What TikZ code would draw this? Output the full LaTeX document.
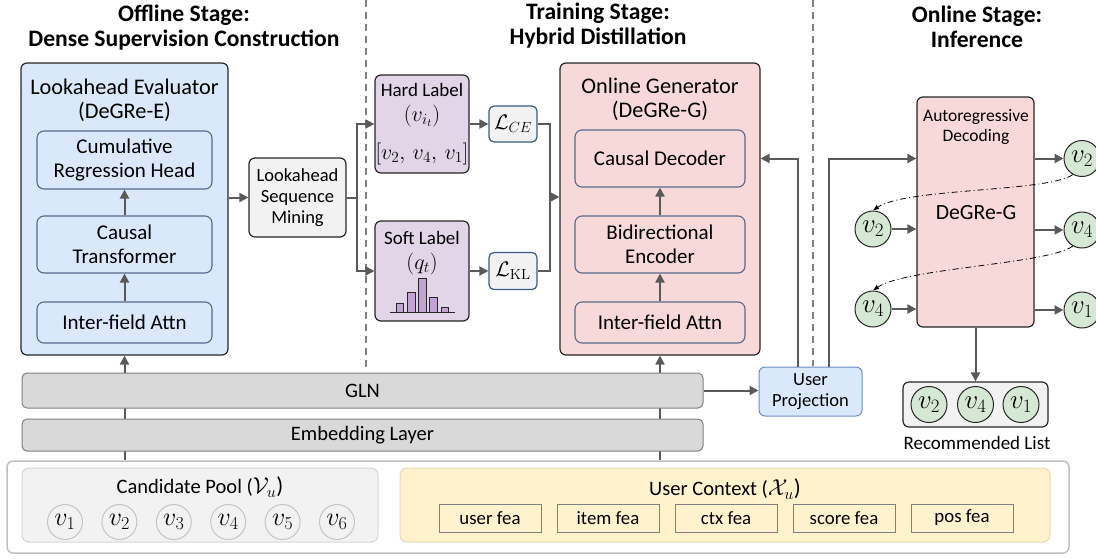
\RequirePackage{fix-cm}
\documentclass[tikz,border=0pt]{standalone}
\usepackage{amsmath}
\usepackage{amssymb}
\usepackage[no-math]{fontspec}
\setmainfont{Carlito}
\usetikzlibrary{arrows.meta,calc}

\definecolor{edgedark}{HTML}{262626}
\definecolor{blockedge}{HTML}{56698A}
\definecolor{flowgray}{HTML}{595959}
\definecolor{evalblue}{HTML}{DAE8FC}
\definecolor{genpink}{HTML}{F8D9D9}
\definecolor{labelpurple}{HTML}{E1D5E7}
\definecolor{barpurple}{HTML}{C3A3D1}
\definecolor{itemgreen}{HTML}{D5E8D4}
\definecolor{poolfill}{HTML}{F2F2F2}
\definecolor{poolgray}{HTML}{C4C4C4}
\definecolor{outergray}{HTML}{BFBFBF}
\definecolor{ctxyellow}{HTML}{FFF2CC}
\definecolor{ctxedge}{HTML}{E8DAAE}
\definecolor{feaedge}{HTML}{808080}
\definecolor{graybar}{HTML}{D9D9D9}
\definecolor{bargray}{HTML}{7F7F7F}
\definecolor{upedge}{HTML}{6C8EBF}
\definecolor{lossedge}{HTML}{3C5A85}
\definecolor{sepgray}{HTML}{7F7F7F}

\newcommand{\fsz}[2]{\fontsize{#1}{#2}\selectfont}

\begin{document}
\begin{tikzpicture}[x=1pt,y=-1pt,
	stagetitle/.style={font=\bfseries\fsz{23.6}{25}, align=center},
	paneltitle/.style={font=\fsz{22.3}{24}, align=center},
	panel/.style={draw=edgedark, line width=1.2pt, rounded corners=6pt},
	block/.style={draw=blockedge, line width=1.1pt, rounded corners=7pt, align=center, font=\fsz{21}{24}, minimum width=175pt},
	smallbox/.style={draw=edgedark, line width=1.2pt, rounded corners=6pt, align=center, inner sep=0pt},
	flow/.style={draw=flowgray, line width=2pt, -{Triangle[length=9pt,width=9pt]}},
	link/.style={draw=flowgray, line width=2pt},
	item/.style={circle, draw=edgedark, line width=1pt, fill=itemgreen, minimum size=36pt, inner sep=0pt, font=\fsz{27}{28}},
	pool/.style={circle, draw=poolgray, line width=1pt, fill=poolfill, minimum size=35pt, inner sep=0pt, font=\fsz{26}{28}},
	feabox/.style={draw=feaedge, line width=1pt, fill=ctxyellow, minimum width=102pt, minimum height=28pt, inner sep=0pt, font=\fsz{18.8}{22}},
	stagesep/.style={draw=sepgray, line width=1.2pt, dash pattern=on 7pt off 5pt},
	reuse/.style={draw=black, line width=0.8pt, dash pattern=on 6pt off 3pt on 1pt off 3pt, -{Latex[length=6pt,width=5pt]}},
]
\useasboundingbox (0,0) rectangle (1096,558);
\clip (0,0) rectangle (1096,558);

%stage titles
\node[stagetitle] (t1) at (184,27.5) {Offline Stage:\\Dense Supervision Construction};
\node[stagetitle] (t2) at (598,26) {Training Stage:\\Hybrid Distillation};
\node[stagetitle] (t3) at (977,27) {Online Stage:\\Inference};
\draw[stagesep] (366,0) -- (366,372);
\draw[stagesep] (813,0) -- (813,366);

%inputs
\node[draw=outergray, line width=1.5pt, rounded corners=6pt, fill=white, minimum width=1062pt, minimum height=92pt, inner sep=0pt] (inputs) at (538,507) {};
\node[draw=poolgray!70, fill=poolfill, rounded corners=7pt, line width=1pt, minimum width=356pt, minimum height=74pt, inner sep=0pt] (cand) at (200,505) {};
\node[font=\fsz{20.5}{24}] (candtxt) at (200,487) {Candidate Pool (\fsz{23}{24}$\mathcal{V}_u$)};
\foreach \i in {1,...,6}
	\node[pool] (c\i) at (10.6+54.4*\i,522) {$v_{\i}$};
\node[draw=ctxedge, fill=ctxyellow, rounded corners=7pt, line width=1pt, minimum width=650pt, minimum height=74pt, inner sep=0pt] (ctx) at (725,505) {};
\node[font=\fsz{20.5}{24}] (ctxtxt) at (725,489) {User Context (\fsz{23}{24}$\mathcal{X}_u$)};
\foreach \f [count=\k] in {user fea, item fea, ctx fea, score fea, pos fea}
	\node[feabox] (fea\k) at (372+118*\k,518) {\f};

%offline evaluator
\node[panel, fill=evalblue, minimum width=207pt, minimum height=292pt] (eval) at (124.5,209) {};
\node[paneltitle] (evaltxt) at (124.5,100) {Lookahead Evaluator\\(DeGRe-E)};
\node[block, fill=evalblue, minimum height=58pt] (head) at (124.5,160) {Cumulative\\Regression Head};
\node[block, fill=evalblue, minimum height=57pt] (ctrans) at (124.5,244.5) {Causal\\Transformer};
\node[block, fill=evalblue, minimum height=41pt] (eattn) at (124.5,322.5) {Inter-field Attn};
\draw[flow] (eattn) -- (ctrans);
\draw[flow] (ctrans) -- (head);
\node[smallbox, fill=poolfill, minimum width=97pt, minimum height=79pt, font=\fsz{18.5}{21}] (lsm) at (297.5,197.5) {Lookahead\\Sequence\\Mining};
\draw[flow] (lsm.west -| eval.east) -- (lsm.west);

%online generator
\node[panel, fill=genpink, minimum width=200pt, minimum height=292pt] (gen) at (660,209) {};
\node[paneltitle] (gentxt) at (660,99.5) {Online Generator\\(DeGRe-G)};
\node[block, fill=genpink, minimum width=170pt, minimum height=57pt] (dec) at (660,158.5) {Causal Decoder};
\node[block, fill=genpink, minimum width=170pt, minimum height=57pt] (enc) at (660,244.5) {Bidirectional\\Encoder};
\node[block, fill=genpink, minimum width=170pt, minimum height=41pt] (gattn) at (660,322.5) {Inter-field Attn};
\draw[flow] (gattn) -- (enc);
\draw[flow] (enc) -- (dec);

%labels and losses
\node[smallbox, fill=labelpurple, minimum width=94pt, minimum height=98pt, font=\fsz{19}{25}] (hard) at (422,124) {Hard Label\\\fsz{22}{25}$(v_{i_t})$\\[13pt]\fsz{22}{25}$[v_2,\,v_4,\,v_1]$};
\node[smallbox, fill=labelpurple, minimum width=94pt, minimum height=100pt] (soft) at (422,271) {};
\node[font=\fsz{19}{25}, align=center] (softtxt) at (422,253) {Soft Label\\\fsz{22}{25}$(q_t)$};
\foreach \x/\t in {396/303, 407.5/292, 418.5/278, 429.5/297, 441/307}
	\draw[fill=barpurple, draw=edgedark, line width=0.8pt] (\x,312) rectangle ++(7.5,\t-312);
\draw[edgedark, line width=1pt] (390,312) -- (455,312);
\node[smallbox, draw=lossedge, fill=poolfill, minimum width=48pt, minimum height=36pt, rounded corners=5pt, font=\fsz{21}{24}] (ce) at (513,124) {$\mathcal{L}_{CE}$};
\node[smallbox, draw=lossedge, fill=poolfill, minimum width=48pt, minimum height=37pt, rounded corners=5pt, font=\fsz{21}{24}] (kl) at (513,271) {$\mathcal{L}_{\mathrm{KL}}$};
\coordinate (split) at (357,197.5);
\draw[link] (lsm.east) -- (split);
\draw[flow] (split) |- (hard.west);
\draw[flow] (split) |- (soft.west);
\draw[flow] (hard) -- (ce);
\draw[flow] (soft) -- (kl);
\coordinate (merge) at (550,197);
\draw[link] (ce.east) -| (merge);
\draw[link] (kl.east) -| (merge);
\draw[flow] (merge) -- (merge -| gen.west);

%shared backbone
\draw[flow] (eval.south |- inputs.north) -- (eval.south);
\draw[flow] (gen.south |- inputs.north) -- (gen.south);
\node[draw=bargray, fill=graybar, rounded corners=5pt, line width=1pt, minimum width=681pt, minimum height=35pt, inner sep=0pt, font=\fsz{20.5}{24}] (gln) at (362.5,390.5) {GLN};
\node[draw=bargray, fill=graybar, rounded corners=5pt, line width=1pt, minimum width=681pt, minimum height=32pt, inner sep=0pt, font=\fsz{20.5}{24}] (emb) at (362.5,435) {Embedding Layer};
\node[draw=upedge, fill=evalblue, rounded corners=6pt, line width=1pt, minimum width=103pt, minimum height=49pt, inner sep=0pt, align=center, font=\fsz{18.5}{21}] (up) at (810.5,391.5) {User\\Projection};
\draw[flow] (gln.east) -- (gln.east -| up.west);
\draw[flow] ([xshift=-12.5pt]up.north) |- (dec.east -| gen.east);

%online inference
\node[panel, fill=genpink, minimum width=117pt, minimum height=230pt] (ard) at (975.5,212) {};
\node[font=\fsz{17.5}{20}, align=center] (ardtxt) at (976,127) {Autoregressive\\Decoding};
\node[font=\fsz{21.7}{24}] (ardname) at (976,213) {DeGRe-G};
\draw[flow] ([xshift=18pt]up.north) |- (dec.east -| ard.west);
\node[item] (in2) at (873,229) {$v_2$};
\node[item] (in4) at (873,309) {$v_4$};
\node[item] (out2) at (1082,158.5) {$v_2$};
\node[item] (out4) at (1082,230) {$v_4$};
\node[item] (out1) at (1082,310) {$v_1$};
\draw[flow] (in2) -- (in2 -| ard.west);
\draw[flow] (in4) -- (in4 -| ard.west);
\foreach \o in {out2,out4,out1}
	\draw[flow] (\o -| ard.east) -- (\o);
\draw[reuse] (out2.240) .. controls (1050,192) and (905,188) .. (in2.north);
\draw[reuse] (out4.240) .. controls (1050,264) and (905,268) .. (in4.north);
\node[draw=edgedark, fill=poolfill, rounded corners=6pt, line width=1.2pt, minimum width=145pt, minimum height=45pt] (list) at (975.5,404.5) {};
\foreach \v/\x in {2/929,4/975.5,1/1021}
	\node[item] (r\v) at (\x,404.5) {$v_{\v}$};
\node[font=\fsz{19}{22}] (listtxt) at (977,443) {Recommended List};
\draw[flow] (ard) -- (list);
\end{tikzpicture}
\end{document}
